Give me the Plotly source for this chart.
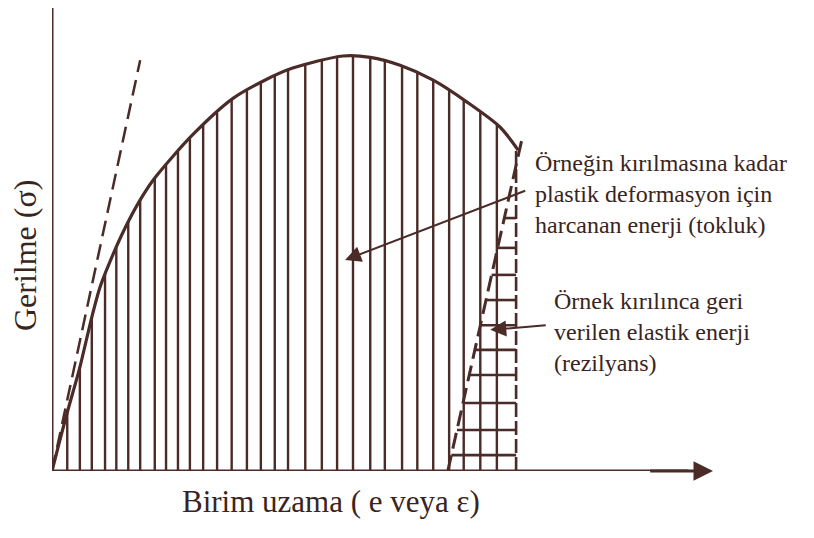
import numpy as np
import plotly.graph_objects as go

# Gerilme-uzama egrisi (birim: keyfi, 0-100)
curve_x = [0, 1.2, 2.4, 4.1, 6.0, 7.2, 8.7, 11.0, 13.3, 15.5, 21.3, 27.3, 32.1, 36.3,
           43.9, 48.0, 52.5, 57.5, 62.6, 67.6, 70.3]
curve_y = [0, 6.7, 13.1, 21.7, 33.0, 39.3, 44.8, 52.1, 58.2, 62.9, 72.3, 80.0, 83.9,
           86.5, 89.1, 88.8, 87.1, 83.9, 79.2, 73.8, 68.9]

# elastik teget (kesikli) ve kirilmada geri donus cizgisi (kesikli)
elastic_x = [0, 13.3]
elastic_y = [0, 88.2]
unload_x = [59.7, 71.0]
unload_y = [0, 72.0]

# tarama cizgileri
hatch_x = [2.3, 4.2, 6.0, 8.0, 9.7, 11.5, 13.3, 15.5, 17.2, 19.0, 20.8, 22.8, 24.9,
           27.1, 29.4, 31.5, 33.6, 35.6, 38.2, 40.7, 43.0, 45.4, 48.0, 50.2, 52.8,
           55.1, 57.5, 59.9, 62.1, 64.6, 67.1]
edge_x = 70.0
hatch_y = [54.3, 47.9, 42.1, 36.7, 31.3, 26.0, 20.6, 14.6, 8.8, 3.4]

INK = "#4a2b27"
TXT = "#3a2420"
SERIF = "Liberation Serif, Times New Roman, serif"

fig = go.Figure()

# dikey tarama
vx, vy = [], []
for x in hatch_x:
    top = float(np.interp(x, curve_x, curve_y))
    vx += [x, x, None]
    vy += [0, top, None]
fig.add_trace(go.Scatter(x=vx, y=vy, mode="lines", line=dict(color=INK, width=2.4),
                         cliponaxis=False, hoverinfo="skip"))

# yatay tarama (elastik enerji ucgeni)
hx, hy = [], []
for y in hatch_y:
    left = float(np.interp(y, unload_y, unload_x))
    hx += [left, edge_x, None]
    hy += [y, y, None]
fig.add_trace(go.Scatter(x=hx, y=hy, mode="lines", line=dict(color=INK, width=2.6),
                         cliponaxis=False, hoverinfo="skip"))

# sag kenar
edge_top = float(np.interp(edge_x, curve_x, curve_y))
fig.add_trace(go.Scatter(x=[edge_x, edge_x], y=[0, edge_top], mode="lines",
                         line=dict(color=INK, width=2.6, dash="14px,4px"),
                         cliponaxis=False, hoverinfo="skip"))

# kesikli cizgiler
fig.add_trace(go.Scatter(x=elastic_x, y=elastic_y, mode="lines",
                         line=dict(color=INK, width=2.5, dash="16px,8px"),
                         cliponaxis=False, hoverinfo="skip"))
fig.add_trace(go.Scatter(x=unload_x, y=unload_y, mode="lines",
                         line=dict(color=INK, width=3, dash="16px,7px"),
                         cliponaxis=False, hoverinfo="skip"))

# egri
fig.add_trace(go.Scatter(x=curve_x, y=curve_y, mode="lines",
                         line=dict(color=INK, width=3.2, shape="spline", smoothing=0.8),
                         cliponaxis=False, hoverinfo="skip"))

# eksenler
fig.add_trace(go.Scatter(x=[0, 0, 96], y=[99.4, 0, 0], mode="lines",
                         line=dict(color=INK, width=3), cliponaxis=False,
                         hoverinfo="skip"))

fig.add_annotation(x=99.7, y=0, ax=90, ay=0, xref="x", yref="y", axref="x", ayref="y",
                   showarrow=True, arrowhead=2, arrowsize=1.3, arrowwidth=3,
                   arrowcolor=INK, text="")

# oklar
fig.add_annotation(x=44.2, y=45.3, ax=71.6, ay=60.3, xref="x", yref="y",
                   axref="x", ayref="y", showarrow=True, arrowhead=2, arrowsize=1.6,
                   arrowwidth=2, arrowcolor=INK, text="")
fig.add_annotation(x=66.1, y=30.3, ax=74.7, ay=31.3, xref="x", yref="y",
                   axref="x", ayref="y", showarrow=True, arrowhead=2, arrowsize=1.6,
                   arrowwidth=2, arrowcolor=INK, text="")

# metinler
fig.add_annotation(x=72.5, y=59.4, xref="x", yref="y", xanchor="left", yanchor="middle",
                   align="left", showarrow=False,
                   text="Örneğin kırılmasına kadar<br>plastik deformasyon için<br>"
                        "harcanan enerji (tokluk)",
                   font=dict(family=SERIF, size=24, color=TXT))
fig.add_annotation(x=75.4, y=29.8, xref="x", yref="y", xanchor="left", yanchor="middle",
                   align="left", showarrow=False,
                   text="Örnek kırılınca geri<br>verilen elastik enerji<br>(rezilyans)",
                   font=dict(family=SERIF, size=24, color=TXT))
fig.add_annotation(x=0.421, y=-0.065, xref="paper", yref="paper", xanchor="center",
                   yanchor="middle", showarrow=False,
                   text="Birim uzama ( e veya ε)",
                   font=dict(family=SERIF, size=31, color=TXT))
fig.add_annotation(x=-0.041, y=0.466, xref="paper", yref="paper", xanchor="center",
                   yanchor="middle", showarrow=False, textangle=-90,
                   text="Gerilme (σ)",
                   font=dict(family=SERIF, size=32, color=TXT))

# sayfa kenar boslugu (8px) hesaba katildi
fig.update_layout(
    width=806, height=530,
    margin=dict(l=44, r=99, t=0, b=67),
    paper_bgcolor="white", plot_bgcolor="white",
    showlegend=False,
    xaxis=dict(range=[0, 100], visible=False, fixedrange=True),
    yaxis=dict(range=[0, 99.4], visible=False, fixedrange=True),
)

fig.write_html("out.html")
